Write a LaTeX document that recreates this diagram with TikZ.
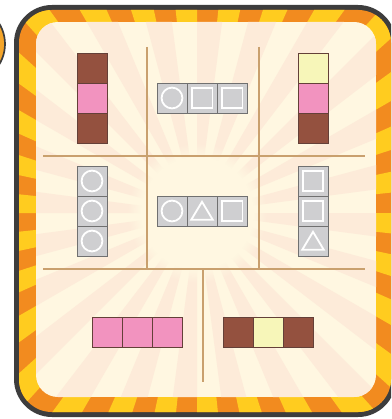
\documentclass[tikz,border=0pt]{standalone}
\usepackage{tikz}
\usetikzlibrary{positioning, fadings}
\definecolor{framedark}{RGB}{61,61,61}
\definecolor{borderorange}{RGB}{242,139,31}
\definecolor{borderyellow}{RGB}{255,204,31}
\definecolor{blobfill}{RGB}{244,165,42}
\definecolor{cream}{RGB}{255,247,225}
\definecolor{sunray}{RGB}{253,235,217}
\definecolor{tan}{RGB}{201,160,110}
\definecolor{tilegray}{RGB}{207,207,209}
\definecolor{tileedge}{RGB}{112,112,112}
\definecolor{choco}{RGB}{148,81,63}
\definecolor{candy}{RGB}{242,147,191}
\definecolor{lemon}{RGB}{247,246,185}
\definecolor{colouredge}{RGB}{100,64,56}
\tikzset{
  tile/.style    = {draw, line width=0.5pt, minimum size=0.75cm,
                    inner sep=0pt, outer sep=0pt},
  gtile/.style   = {tile, draw=tileedge, fill=tilegray},
  glyph/.style   = {draw=white, line width=1.3pt},
  ctile/.style   = {gtile, path picture={\draw[glyph]
                    (path picture bounding box.center) circle (0.26cm);}},
  stile/.style   = {gtile, path picture={\draw[glyph]
                    (path picture bounding box.center) ++(-0.26cm,-0.26cm)
                    rectangle ++(0.52cm,0.52cm);}},
  ttile/.style   = {gtile, path picture={\draw[glyph, line join=miter]
                    (path picture bounding box.center) ++(0cm,0.23cm)
                    -- ++(-0.27cm,-0.45cm) -- ++(0.54cm,0cm) -- cycle;}},
  brtile/.style  = {tile, draw=colouredge, fill=choco},
  pktile/.style  = {tile, draw=colouredge, fill=candy},
  yltile/.style  = {tile, draw=colouredge, fill=lemon}
}

\begin{document}
\begin{tikzpicture}[
    x=0.025cm, y=-0.025cm,
    grid/.style={tan, line width=1.4pt}
  ]
    \clip (0,0) rectangle (391,419);
    \fill[blobfill, draw=framedark, line width=1.2pt] (-34,44) circle (39);
    \fill[framedark, rounded corners=0.95cm] (14,5) rectangle (396,417);
    \begin{scope}
      \clip[rounded corners=0.82cm] (19,10) rectangle (391,412);
      \fill[borderorange] (0,0) rectangle (400,420);
      \foreach \a in {0,12,...,348}
        \fill[borderyellow] (197,213) -- +(\a:700) -- +(\a+6:700) -- cycle;
    \end{scope}
    \begin{scope}
      \clip[rounded corners=0.55cm] (36,22) rectangle (376,397);
      \fill[cream] (36,22) rectangle (376,397);
      \foreach \a in {0,15,...,345}
        \fill[sunray] (197,213) -- +(\a:450) -- +(\a+7.5:450) -- cycle;
      \fill[cream, path fading=circle with fuzzy edge 20 percent]
        (197,213) circle (70);
    \end{scope}
    \draw[grid] (43,156) -- (365,156);
    \draw[grid] (43,269) -- (365,269);
    \draw[grid] (147,47) -- (147,269);
    \draw[grid] (259,47) -- (259,269);
    \draw[grid] (203,269) -- (203,382);
    % top row
    \node[brtile] (tl1) at (92,68) {};
    \node[pktile, below=0pt of tl1] (tl2) {};
    \node[brtile, below=0pt of tl2] (tl3) {};
    \node[ctile] (tm1) at (172,98) {};
    \node[stile, right=0pt of tm1] (tm2) {};
    \node[stile, right=0pt of tm2] (tm3) {};
    \node[yltile] (tr1) at (313,68) {};
    \node[pktile, below=0pt of tr1] (tr2) {};
    \node[brtile, below=0pt of tr2] (tr3) {};
    % middle row
    \node[ctile] (ml1) at (92,181) {};
    \node[ctile, below=0pt of ml1] (ml2) {};
    \node[ctile, below=0pt of ml2] (ml3) {};
    \node[ctile] (mm1) at (172,211) {};
    \node[ttile, right=0pt of mm1] (mm2) {};
    \node[stile, right=0pt of mm2] (mm3) {};
    \node[stile] (mr1) at (313,181) {};
    \node[stile, below=0pt of mr1] (mr2) {};
    \node[ttile, below=0pt of mr2] (mr3) {};
    % bottom row
    \node[pktile] (bl1) at (107,332) {};
    \node[pktile, right=0pt of bl1] (bl2) {};
    \node[pktile, right=0pt of bl2] (bl3) {};
    \node[brtile] (br1) at (238,332) {};
    \node[yltile, right=0pt of br1] (br2) {};
    \node[brtile, right=0pt of br2] (br3) {};
  \end{tikzpicture}
\end{document}
